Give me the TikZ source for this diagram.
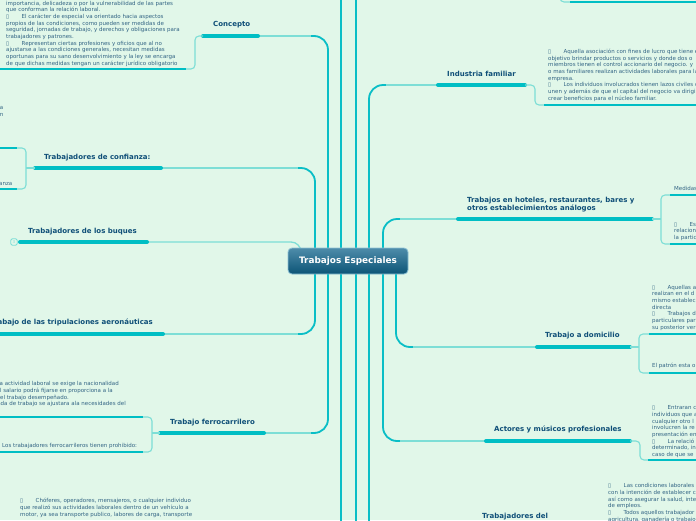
\documentclass[tikz,border=0pt]{standalone}
\usepackage{fontspec}
\setmainfont{DejaVu Sans}
\definecolor{bgc}{RGB}{225,247,233}
\definecolor{trunkc}{RGB}{10,190,198}
\definecolor{linkc}{RGB}{125,222,214}
\definecolor{ulc}{RGB}{0,190,196}
\definecolor{titlec}{RGB}{15,79,120}
\definecolor{bodyc}{RGB}{50,100,132}
\definecolor{ctop}{RGB}{78,140,170}
\definecolor{cbot}{RGB}{12,84,118}
\definecolor{cedge}{RGB}{140,192,212}
\newcommand\bul{\makebox[15.5pt][l]{▯}}
\newcommand\fst{\rule{0pt}{4.2pt}}
\newcommand\tst{\rule{0pt}{5.3pt}}
\begin{document}
\begin{tikzpicture}[x=1pt,y=-1pt,
  trunk/.style={draw=trunkc,line width=1.8pt,rounded corners=14pt},
  link/.style={draw=linkc,line width=1.3pt},
  brace/.style={draw=linkc,line width=1.1pt,rounded corners=4pt},
  tline/.style={draw=ulc,line width=4pt,line cap=round},
  subline/.style={draw=ulc,line width=2pt},
  ttl/.style={font=\fontsize{7}{7.9}\selectfont\bfseries,text=titlec,inner sep=0pt,anchor=base west},
  body/.style={font=\fontsize{5.5}{6.67}\selectfont,text=bodyc,inner sep=0pt,align=left,anchor=north west},
  central/.style={rounded corners=4pt,top color=ctop,bottom color=cbot,draw=cedge,line width=0.8pt,
    minimum width=120pt,minimum height=26pt,text=white,font=\fontsize{8.9}{10}\selectfont\bfseries}]
\useasboundingbox (0,0) rectangle (696,520);
\fill[bgc] (0,0) rectangle (696,520);
\clip (0,0) rectangle (696,520);

% coordinates of title underlines
\coordinate (co-l) at (203,36);  \coordinate (co-r) at (258,36);
\coordinate (cf-l) at (35,168);  \coordinate (cf-r) at (161,168);
\coordinate (bq-l) at (20,242);  \coordinate (bq-r) at (147,242);
\coordinate (tr-l) at (-6,334);  \coordinate (tr-r) at (163,334);
\coordinate (fe-l) at (160,433); \coordinate (fe-r) at (264,433);
\coordinate (in-l) at (438,85);  \coordinate (in-r) at (525,85);
\coordinate (ho-l) at (458,219); \coordinate (ho-r) at (652,219);
\coordinate (do-l) at (537,347); \coordinate (do-r) at (630,347);
\coordinate (ac-l) at (486,441); \coordinate (ac-r) at (630,441);
\coordinate (off1-t) at (341,-6); \coordinate (off1-b) at (341,526);
\coordinate (off2-t) at (356,-6); \coordinate (off2-b) at (356,526);
\coordinate (td-b) at (369,526);
\coordinate (tp-t) at (560,-6); \coordinate (tp-l) at (570,2); \coordinate (tp-r) at (700,2);

% trunks from the central node
\draw[trunk] (off1-t) -- (off1-b);
\draw[trunk] (off2-t) -- (off2-b);
\draw[trunk] (369,261) -- (td-b);
\draw[trunk] (328,261) |- (co-r);
\draw[link] (co-r) -- (311,36);
\draw[trunk] (315,261) |- (cf-r);
\draw[link] (cf-r) -- (298,168);
\draw[link,rounded corners=10pt] (bq-r) -| (301,256);
\draw[trunk] (315,261) |- (tr-r);
\draw[link] (tr-r) -- (298,334);
\draw[trunk] (328,261) |- (fe-r);
\draw[link] (fe-r) -- (311,433);
\draw[trunk] (369,261) |- (in-l);
\draw[link] (386,85) -- (in-l);
\draw[trunk] (383,261) |- (ho-l);
\draw[link] (400,219) -- (ho-l);
\draw[trunk] (396,261) |- (do-l);
\draw[link] (413,347) -- (do-l);
\draw[trunk] (383,261) |- (ac-l);
\draw[link] (400,441) -- (ac-l);

% central node
\node[central] (c) at (348,261) {Trabajos Especiales};

% title underlines
\draw[tline] (co-l) -- (co-r);
\draw[tline] (cf-l) -- (cf-r);
\draw[tline] (bq-l) -- (bq-r);
\draw[tline] (tr-l) -- (tr-r);
\draw[tline] (fe-l) -- (fe-r);
\draw[tline] (in-l) -- (in-r);
\draw[tline] (ho-l) -- (ho-r);
\draw[tline] (do-l) -- (do-r);
\draw[tline] (ac-l) -- (ac-r);

% titles
\node[ttl] (co) at (213,26.7) {Concepto};
\node[ttl] (cf) at (44,159) {Trabajadores de confianza:};
\node[ttl] (bq) at (28,233.7) {Trabajadores de los buques};
\node[ttl,anchor=base east] (tr) at (153,324.7) {Trabajo de las tripulaciones aeronáuticas};
\node[ttl] (fe) at (170,424.7) {Trabajo ferrocarrilero};
\node[ttl] (in) at (447,76.4) {Industria familiar};
\node[ttl,anchor=north west,align=left] (ho) at (467,197.1) {\tst Trabajos en hoteles, restaurantes, bares y\\otros establecimientos análogos};
\node[ttl] (do) at (545,337.7) {Trabajo a domicilio};
\node[ttl] (ac) at (494,431.7) {Actores y músicos profesionales};
\node[ttl] (td) at (482,518.4) {Trabajadores del};

% collapsed marker
\node[draw=linkc,line width=0.8pt,rounded corners=1.5pt,minimum size=6.5pt,inner sep=0pt,
  font=\fontsize{4}{4}\selectfont,text=linkc] (bq-m) at (14,242) {3};

% child connectors and underlines
\draw[brace] (co-l) -| (195,69) -- (186,69);
\draw[subline] (-6,69) -- (186,69);

\draw[link] (cf-l) -- (26,168);
\draw[brace] (17,148) -| (26,189) -- (17,189);
\draw[subline] (-6,148) -- (17,148);
\draw[subline] (-6,189) -- (17,189);

\draw[link] (fe-l) -- (152,433);
\draw[brace] (143,417) -| (152,452) -- (143,452);
\draw[subline] (-6,417) -- (143,417);
\draw[subline] (-6,452) -- (143,452);

\draw[brace] (in-r) -| (535,105) -- (544,105);
\draw[subline] (544,105) -- (700,105);

\draw[link] (ho-r) -- (661,219);
\draw[brace] (670,195) -| (661,244) -- (670,244);
\draw[subline] (670,195) -- (700,195);
\draw[subline] (670,244) -- (700,244);

\draw[link] (do-r) -- (639,347);
\draw[brace] (649,334) -| (639,373) -- (649,373);
\draw[subline] (649,334) -- (700,334);
\draw[subline] (649,373) -- (700,373);

\draw[brace] (ac-r) -| (640,460) -- (648,460);
\draw[subline] (648,460) -- (700,460);

\draw[brace] (tp-t) |- (tp-l);
\draw[subline] (tp-l) -- (tp-r);

% texts
\node[body] (co-t) at (6,0.6) {\fst importancia, delicadeza o por la vulnerabilidad de las partes\\
que conforman la relación laboral.\\
\bul El carácter de especial va orientado hacia aspectos\\
propios de las condiciones, como pueden ser medidas de\\
seguridad, jornadas de trabajo, y derechos y obligaciones para\\
trabajadores y patrones.\\
\bul Representan ciertas profesiones y oficios que al no\\
ajustarse a las condiciones generales, necesitan medidas\\
oportunas para su sano desenvolvimiento y la ley se encarga\\
de que dichas medidas tengan un carácter jurídico obligatorio};

\node[body,anchor=base east] (fr1) at (3.5,109.3) {a};
\node[body,anchor=base east] (fr2) at (3.5,116.3) {n};
\node[body,anchor=base east] (cf-t) at (12.5,185) {anza};

\node[body,anchor=base east] (fe-t1) at (119,385.6) {ca actividad laboral se exige la nacionalidad};
\node[body,anchor=base east] (fe-t2) at (113,392.3) {l salario podrá fijarse en proporciona a la};
\node[body,anchor=base east] (fe-t3) at (69,399) {del trabajo desempeñado.};
\node[body,anchor=base east] (fe-t4) at (126,405.6) {ada de trabajo se ajustara ala necesidades del};
\node[body,anchor=base west] (fe-t5) at (2,447.6) {Los trabajadores ferrocarrileros tienen prohibido:};

\node[body] (bl-t) at (20,498.3) {\fst\bul Chóferes, operadores, mensajeros, o cualquier individuo\\
que realizó sus actividades laborales dentro de un vehículo a\\
motor, ya sea transporte publico, labores de carga, transporte};

\node[body] (in-t) at (548,49) {\fst\bul Aquella asociación con fines de lucro que tiene e\\
objetivo brindar productos o servicios y donde dos o\\
miembros tienen el control accionario del negocio. y\\
o mas familiares realizan actividades laborales para la\\
empresa.\\
\bul Los individuos involucrados tienen lazos civiles q\\
unen y además de que el capital del negocio va dirigi\\
crear beneficios para el núcleo familiar.};

\node[body,anchor=base west] (ho-t1) at (674,190.6) {Medidas};
\node[body] (ho-t2) at (674,221.6) {\fst\bul Es\\relacion\\la partic};

\node[body] (do-t1) at (652,284.6) {\fst\bul Aquellas a\\realizan en el d\\mismo establec\\directa\\
\bul Trabajos d\\particulares par\\su posterior ver};
\node[body,anchor=base west] (do-t2) at (652,367.6) {El patrón esta o};

\node[body] (ac-t) at (652,405.3) {\fst\bul Entraran c\\individuos que a\\cualquier otro l\\involucren la re\\presentación en\\
\bul La relació\\determinado, in\\caso de que se};

\node[body] (td-t) at (608,483.3) {\fst\bul Las condiciones laborales s\\con la intención de establecer c\\así como asegurar la salud, inte\\de empleos.\\
\bul Todos aquellos trabajador\\agricultura, ganadería o trabajo};
\end{tikzpicture}
\end{document}
